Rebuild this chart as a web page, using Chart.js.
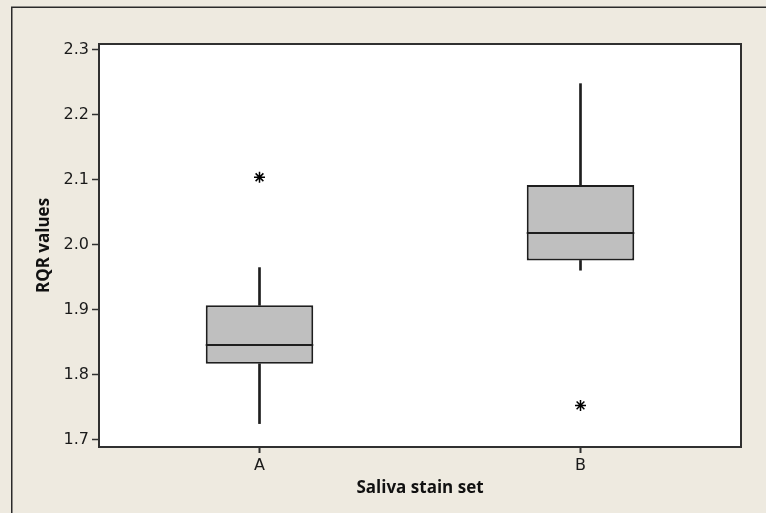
<!DOCTYPE html>
<html>
<head>
<meta charset="utf-8">
<script src="https://cdn.jsdelivr.net/npm/chart.js@4/dist/chart.umd.min.js"></script>
<style>
  html, body { margin: 0; padding: 0; background: #eeeae0; }
  #wrap { width: 766px; height: 513px; }
</style>
</head>
<body>
<div id="wrap"><canvas id="c" width="766" height="513"></canvas></div>
<script>
// ---- data ----
const categories  = ['A', 'B'];
const whiskerLow  = [1.725, 1.961];
const q1          = [1.817, 1.976];
const medians     = [1.846, 2.019];
const q3          = [1.907, 2.092];
const whiskerHigh = [1.965, 2.248];
const outliers    = [2.104, 1.753];
const yTicks      = [1.7, 1.8, 1.9, 2.0, 2.1, 2.2, 2.3];
const yMin = 1.689, yMax = 2.309;
const xTitle = 'Saliva stain set';
const yTitle = 'RQR values';

const INK = '#1e1e1e';
const TICK_FONT = "'DejaVu Sans', sans-serif";
const TITLE_FONT = "'Open Sans', 'DejaVu Sans', sans-serif";

const backdrop = {
  id: 'backdrop',
  beforeDraw(chart) {
    const { ctx, chartArea: a } = chart;
    ctx.save();
    ctx.fillStyle = '#eeeae0';
    ctx.fillRect(0, 0, chart.width, chart.height);
    ctx.strokeStyle = '#2a2a2a';
    ctx.lineWidth = 1.5;
    ctx.strokeRect(11.75, 7.25, 900, 700);
    ctx.fillStyle = '#ffffff';
    ctx.fillRect(a.left, a.top, a.right - a.left, a.bottom - a.top);
    ctx.restore();
  },
  afterDatasetsDraw(chart) {
    // median line across each box, placed through the y scale
    const { ctx, scales: { y } } = chart;
    const meta = chart.getDatasetMeta(1);
    ctx.save();
    ctx.strokeStyle = INK;
    ctx.lineWidth = 2;
    meta.data.forEach((bar, i) => {
      const py = Math.round(y.getPixelForValue(medians[i]));
      const half = bar.width / 2;
      ctx.beginPath();
      ctx.moveTo(bar.x - half, py);
      ctx.lineTo(bar.x + half, py);
      ctx.stroke();
    });
    ctx.restore();
  },
  afterDraw(chart) {
    const { ctx, chartArea: a } = chart;
    ctx.save();
    ctx.strokeStyle = '#303030';
    ctx.lineWidth = 2;
    ctx.strokeRect(a.left, a.top, a.right - a.left, a.bottom - a.top);
    ctx.restore();
  }
};

const pair = (lo, hi) => lo.map((v, i) => [v, hi[i]]);

new Chart(document.getElementById('c'), {
  data: {
    labels: categories,
    datasets: [
      {
        type: 'line',
        data: categories.map((c, i) => ({ x: c, y: outliers[i] })),
        showLine: false,
        pointStyle: 'star',
        pointRadius: 5.5,
        pointBorderWidth: 1.5,
        pointBorderColor: '#000',
        pointBackgroundColor: '#000'
      },
      {
        type: 'bar',
        data: pair(q1, q3),
        grouped: false,
        backgroundColor: '#bfbfbf',
        borderColor: INK,
        borderWidth: 2,
        borderSkipped: false,
        barPercentage: 0.335,
        categoryPercentage: 1
      },
      {
        type: 'bar',
        data: pair(q3, whiskerHigh),
        grouped: false,
        backgroundColor: INK,
        borderWidth: 0,
        barThickness: 2
      },
      {
        type: 'bar',
        data: pair(whiskerLow, q1),
        grouped: false,
        backgroundColor: INK,
        borderWidth: 0,
        barThickness: 2
      }
    ]
  },
  options: {
    responsive: false,
    animation: false,
    events: [],
    layout: { padding: { top: 44, right: 25, left: 0, bottom: 0 } },
    plugins: { legend: { display: false }, tooltip: { enabled: false } },
    scales: {
      x: {
        type: 'category',
        offset: true,
        grid: { offset: false, drawOnChartArea: false, drawTicks: true, tickLength: 6, tickColor: '#303030', tickWidth: 2 },
        border: { display: false },
        ticks: { color: '#1a1a1a', font: { family: TICK_FONT, size: 16 }, padding: 3 },
        title: { display: true, text: xTitle, color: '#111', font: { family: TITLE_FONT, size: 17, weight: 'bold' }, padding: { top: 0, bottom: 14.8 } },
        afterFit(scale) { scale.height = 66; }
      },
      y: {
        type: 'linear',
        min: yMin,
        max: yMax,
        afterBuildTicks(scale) { scale.ticks = yTicks.map(v => ({ value: v })); },
        grid: { drawOnChartArea: false, drawTicks: true, tickLength: 7, tickColor: '#303030', tickWidth: 1.5 },
        border: { display: false },
        ticks: { color: '#1a1a1a', font: { family: TICK_FONT, size: 16 }, padding: 3, callback: v => Number(v).toFixed(1) },
        title: { display: true, text: yTitle, color: '#111', font: { family: TITLE_FONT, size: 17, weight: 'bold' }, padding: { top: 33.8, bottom: 0 } },
        afterFit(scale) { scale.width = 99; }
      }
    }
  },
  plugins: [backdrop]
});
</script>
</body>
</html>
